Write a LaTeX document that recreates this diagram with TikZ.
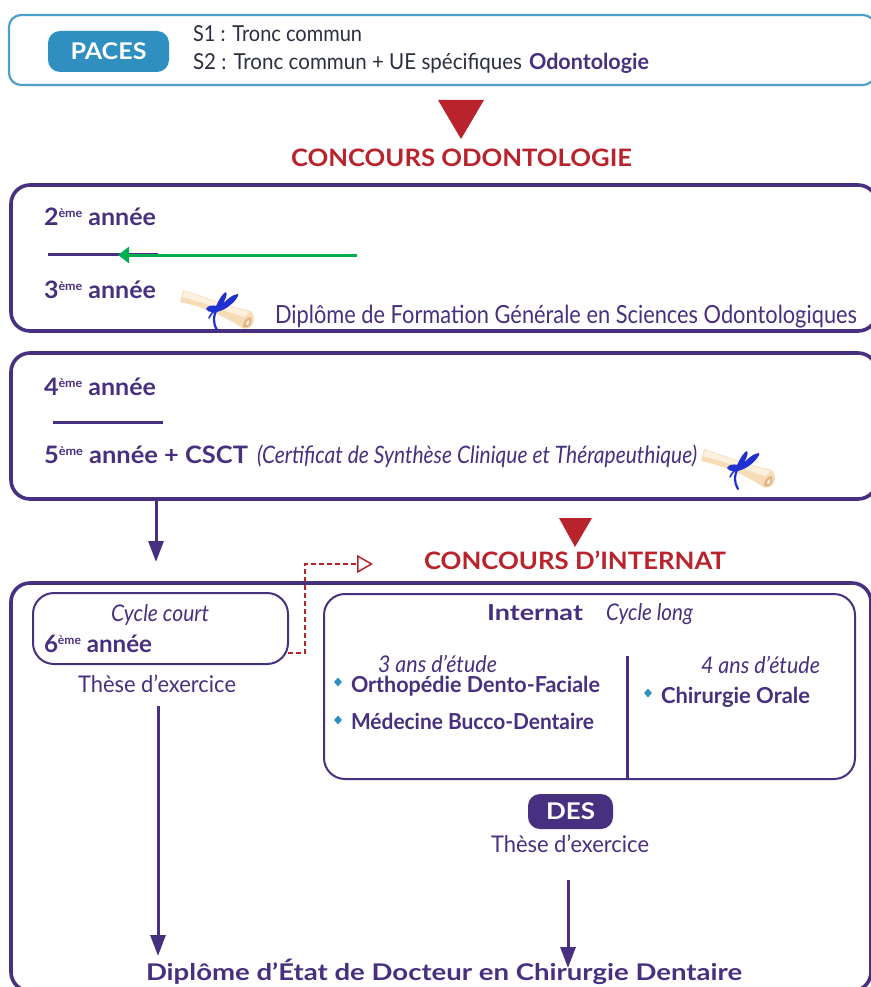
\documentclass[tikz,border=0pt]{standalone}
\usepackage{fontspec}
\usepackage{graphicx}
\setmainfont{Lato}
\usetikzlibrary{arrows.meta,shapes.geometric}
\definecolor{purp}{HTML}{47307F}
\definecolor{blu}{HTML}{2E8FC0}
\definecolor{redd}{HTML}{B9232B}
\definecolor{ink}{HTML}{2B2F3F}
\definecolor{grn}{HTML}{00B050}
\definecolor{ribbon}{HTML}{1F2FD0}
\definecolor{parch}{HTML}{F6DDB8}
\definecolor{parchlight}{HTML}{FCF1DE}
\definecolor{parchdark}{HTML}{E2B483}
\newcommand{\tw}[3]{\resizebox{#1pt}{\height}{\fontsize{#2}{#2}\selectfont #3}}
\newcommand{\ord}[1]{#1\raisebox{8pt}{\fontsize{12}{12}\selectfont ème}}
\tikzset{
  x=1pt,y=-1pt,
  txt/.style={anchor=base west,inner sep=0pt,outer sep=0pt,text=purp},
  panel/.style={draw=purp,line width=3.6pt,rounded corners=19pt,anchor=north west,inner sep=0pt,outer sep=0pt},
  inbox/.style={draw=purp,line width=2pt,rounded corners=21pt,anchor=north west,inner sep=0pt,outer sep=0pt},
  pill/.style={rounded corners=12pt,anchor=north west,inner sep=0pt,outer sep=0pt,text=white},
  rule/.style={draw=purp,line width=3pt},
  downarrow/.style={draw=purp,line width=3pt,-{Triangle[length=21pt,width=15pt]}},
  gem/.style={diamond,fill=blu,inner sep=0pt,minimum width=8pt,minimum height=9pt},
  scrollpic/.pic={
    \fill[parch] (13,10) -- (10,22) .. controls (30,26) and (55,36) .. (72,48) .. controls (76,50) and (83,48) .. (84,40) .. controls (84,36) and (83,33) .. (81,31) .. controls (60,27) and (35,17) .. (13,10) -- cycle;
    \fill[parchlight] (14,11) -- (12,17) .. controls (35,23) and (55,31) .. (74,37) -- (80,32) .. controls (60,27) and (35,18) .. (14,11) -- cycle;
    \fill[parchdark] (73,47) .. controls (80,49) and (83,43) .. (81,37) .. controls (76,37) and (73,42) .. (73,47) -- cycle;
    \fill[parchlight] (76,45) .. controls (79,46) and (80,42) .. (79,40) .. controls (77,40) and (76,42) .. (76,45) -- cycle;
    \fill[ribbon] (46,26) .. controls (50,18) and (53,13) .. (56,12) .. controls (58,14) and (55,22) .. (50,27) .. controls (56,20) and (63,14) .. (68,14) .. controls (70,16) and (60,28) .. (50,31) .. controls (46,33) and (38,33) .. (36,29) .. controls (38,25) and (43,25) .. (46,26) -- cycle;
    \draw[draw=ribbon,line width=2.2pt,line cap=round] (47,29) .. controls (43,36) and (43,44) .. (47,50);
    \draw[draw=ribbon,line width=1.6pt,line cap=round] (46,30) .. controls (42,32) and (40,36) .. (39,38);
  }
}
\begin{document}
\begin{tikzpicture}
\useasboundingbox (0,0) rectangle (870,987);
\fill[white] (0,0) rectangle (870,987);
% panels
\node[draw=blu!85!white,line width=2.2pt,rounded corners=12pt,anchor=north west,inner sep=0pt,outer sep=0pt,minimum width=866pt,minimum height=70pt] (paces) at (9,15) {};
\node[panel,minimum width=866pt,minimum height=146pt] (panelA) at (11,185) {};
\node[panel,minimum width=866pt,minimum height=146pt] (panelB) at (11,353) {};
\node[panel,minimum width=860pt,minimum height=408pt] (panelC) at (11,583) {};
\node[inbox,minimum width=255pt,minimum height=71pt] (court) at (33,593) {};
\node[inbox,minimum width=531pt,minimum height=185pt] (long) at (324,594) {};
% top
\node[pill,fill=blu,minimum width=121pt,minimum height=41pt] (pacesTag) at (48,31) {\tw{76}{23}{\bfseries PACES}};
\node[txt,text=ink] (s1) at (193,42) {\tw{169}{22}{S1 : Tronc commun}};
\node[txt,text=ink] (s2) at (193,70) {\tw{329}{22}{S2 : Tronc commun + UE spécifiques}\hspace{7pt}\textcolor{purp}{\tw{120}{22}{\bfseries Odontologie}}};
\fill[redd] (438,100) -- (484,100) -- (461,139) -- cycle;
\node[txt,text=redd] (concA) at (291,166) {\tw{341}{24}{\bfseries CONCOURS ODONTOLOGIE}};
% panel A
\node[txt] (y2) at (44,225) {\tw{112}{24}{\bfseries \ord{2} année}};
\coordinate (ruleAl) at (48,254);
\coordinate (ruleAr) at (158,254);
\draw[rule] (ruleAl) -- (ruleAr);
\coordinate (greenS) at (357,255);
\coordinate (greenE) at (118,255);
\draw[draw=grn,line width=3pt,-{Triangle[length=11pt,width=16pt]}] (greenS) -- (greenE);
\node[txt] (y3) at (44,298) {\tw{112}{24}{\bfseries \ord{3} année}};
\pic at (170,280) {scrollpic};
\node[txt] (dfgso) at (275,323) {\tw{582}{25}{Diplôme de Formation Générale en Sciences Odontologiques}};
% panel B
\node[txt] (y4) at (44,395) {\tw{112}{24}{\bfseries \ord{4} année}};
\coordinate (ruleBl) at (53,422);
\coordinate (ruleBr) at (163,422);
\draw[rule] (ruleBl) -- (ruleBr);
\node[txt] (y5) at (44,463) {\tw{204}{24}{\bfseries \ord{5} année + CSCT}\hspace{9pt}\tw{440}{24}{\itshape (Certificat de Synthèse Clinique et Thérapeuthique)}};
\pic at (691,439) {scrollpic};
% between
\coordinate (armS) at (156,500);
\coordinate (armE) at (156,562);
\draw[downarrow] (armS) -- (armE);
\fill[redd] (559,518) -- (592,518) -- (575,547) -- cycle;
\node[txt,text=redd] (concB) at (424,569) {\tw{302}{24}{\bfseries CONCOURS D’INTERNAT}};
\coordinate (dashS) at (288,653);
\coordinate (dashM) at (305,653);
\coordinate (dashT) at (305,564);
\coordinate (dashE) at (373,564);
\draw[draw=redd,line width=1.5pt,dash pattern=on 5pt off 3pt,-{Triangle[open,length=16pt,width=18pt,fill=white]}] (dashS) -- (dashM) -- (dashT) -- (dashE);
% left box
\node[txt] (cc) at (111,621) {\tw{98}{23}{\itshape Cycle court}};
\node[txt] (y6) at (44,652) {\tw{108}{24}{\bfseries \ord{6} année}};
\node[txt] (these1) at (78,692) {\tw{158}{23}{Thèse d’exercice}};
\coordinate (lineLS) at (158,706);
\coordinate (lineLE) at (158,956);
\draw[downarrow] (lineLS) -- (lineLE);
% right box
\node[txt] (internat) at (487,620) {\tw{96}{22}{\bfseries Internat}};
\node[txt] (cl) at (606,620) {\tw{87}{23}{\itshape Cycle long}};
\coordinate (divT) at (627,656);
\coordinate (divB) at (627,779);
\draw[rule] (divT) -- (divB);
\node[txt] (a3) at (378,672) {\tw{119}{23}{\itshape 3 ans d’étude}};
\node[gem] (g1) at (338,682) {};
\node[txt] (odf) at (351,692) {\tw{249}{22}{\bfseries Orthopédie Dento-Faciale}};
\node[gem] (g2) at (338,720) {};
\node[txt] (mbd) at (351,729) {\tw{243}{22}{\bfseries Médecine Bucco-Dentaire}};
\node[txt] (a4) at (701,673) {\tw{119}{23}{\itshape 4 ans d’étude}};
\node[gem] (g3) at (648,693) {};
\node[txt] (co) at (661,703) {\tw{149}{22}{\bfseries Chirurgie Orale}};
% DES
\node[pill,fill=purp,minimum width=85pt,minimum height=35pt] (des) at (528,794) {\tw{49}{23}{\bfseries DES}};
\node[txt] (these2) at (491,852) {\tw{158}{23}{Thèse d’exercice}};
\coordinate (lineRS) at (568,880);
\coordinate (lineRE) at (568,968);
\draw[downarrow] (lineRS) -- (lineRE);
\node[txt] (dds) at (146,980) {\tw{596}{23}{\bfseries Diplôme d’État de Docteur en Chirurgie Dentaire}};
\end{tikzpicture}
\end{document}
